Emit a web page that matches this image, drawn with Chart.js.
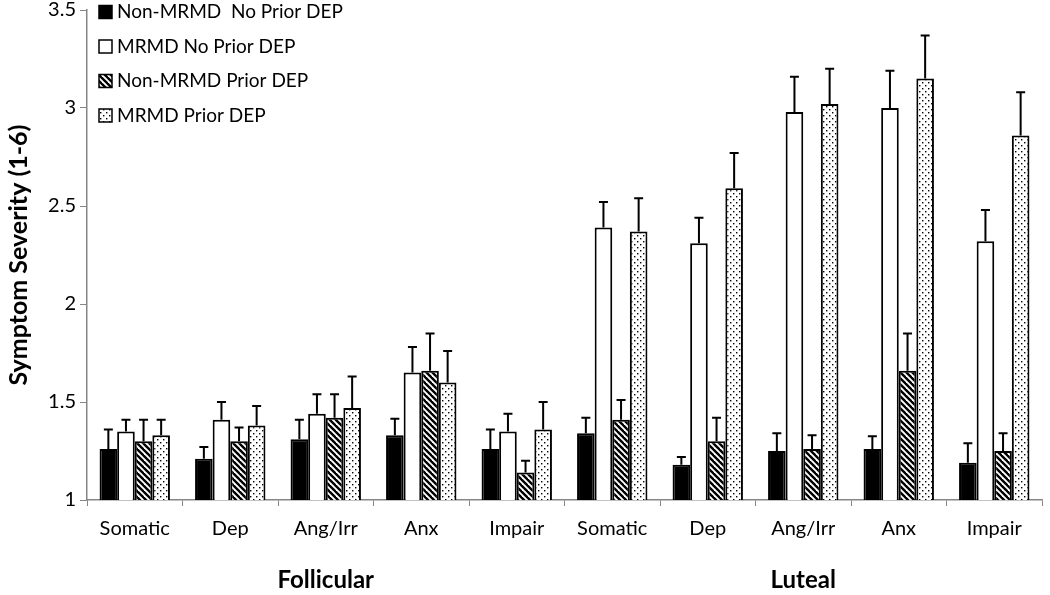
<!DOCTYPE html>
<html>
<head>
<meta charset="utf-8">
<script src="https://cdn.jsdelivr.net/npm/chart.js@4.4.0/dist/chart.umd.min.js"></script>
<style>
  html, body { margin: 0; padding: 0; background: #fff; }
  #wrap { width: 1050px; height: 595px; }
</style>
</head>
<body>
<div id="wrap"><canvas id="severityChart"></canvas></div>
<script>
const categories = ['Somatic', 'Dep', 'Ang/Irr', 'Anx', 'Impair', 'Somatic', 'Dep', 'Ang/Irr', 'Anx', 'Impair'];
const phaseLabels = ['Follicular', 'Luteal'];
const seriesNames = ['Non-MRMD  No Prior DEP', 'MRMD No Prior DEP', 'Non-MRMD Prior DEP', 'MRMD Prior DEP'];
const yTicks = [1, 1.5, 2, 2.5, 3, 3.5];

// means and upper error (SE) per group, follicular then luteal
const nonNoPrior    = [1.26, 1.21, 1.31, 1.33, 1.26, 1.34, 1.18, 1.25, 1.26, 1.19];
const nonNoPriorErr = [0.10, 0.06, 0.10, 0.085, 0.10, 0.08, 0.04, 0.09, 0.065, 0.10];
const mrmdNoPrior    = [1.35, 1.41, 1.44, 1.65, 1.35, 2.39, 2.31, 2.98, 3.00, 2.32];
const mrmdNoPriorErr = [0.06, 0.09, 0.10, 0.13, 0.09, 0.13, 0.13, 0.18, 0.19, 0.16];
const nonPrior    = [1.30, 1.30, 1.42, 1.66, 1.14, 1.41, 1.30, 1.26, 1.66, 1.25];
const nonPriorErr = [0.11, 0.07, 0.12, 0.19, 0.06, 0.10, 0.12, 0.07, 0.19, 0.09];
const mrmdPrior    = [1.33, 1.38, 1.47, 1.60, 1.36, 2.37, 2.59, 3.02, 3.15, 2.86];
const mrmdPriorErr = [0.08, 0.10, 0.16, 0.16, 0.14, 0.17, 0.18, 0.18, 0.22, 0.22];

const fontFamily = 'Lato, "Open Sans", sans-serif';

function makeHatch() {
    const c = document.createElement('canvas');
    c.width = 6; c.height = 6;
    const g = c.getContext('2d');
    g.fillStyle = '#fff';
    g.fillRect(0, 0, 6, 6);
    g.strokeStyle = '#000';
    g.lineWidth = 2.4;
    for (let k = -6; k <= 6; k += 6) {
        g.beginPath();
        g.moveTo(k - 1, -1);
        g.lineTo(k + 7, 7);
        g.stroke();
    }
    return g.createPattern(c, 'repeat');
}

function makeDots() {
    const c = document.createElement('canvas');
    c.width = 6; c.height = 6;
    const g = c.getContext('2d');
    g.fillStyle = '#fff';
    g.fillRect(0, 0, 6, 6);
    g.fillStyle = '#000';
    g.fillRect(1, 1, 1.4, 1.4);
    g.fillRect(4, 4, 1.4, 1.4);
    return g.createPattern(c, 'repeat');
}

const fills = ['#000', '#fff', makeHatch(), makeDots()];
const seriesValues = [nonNoPrior, mrmdNoPrior, nonPrior, mrmdPrior];
const seriesErrors = [nonNoPriorErr, mrmdNoPriorErr, nonPriorErr, mrmdPriorErr];

const errorBars = {
    id: 'errorBars',
    afterDatasetsDraw(chart) {
        const ctx = chart.ctx;
        const y = chart.scales.y;
        ctx.save();
        ctx.strokeStyle = '#000';
        ctx.lineWidth = 2;
        chart.data.datasets.forEach((ds, i) => {
            const meta = chart.getDatasetMeta(i);
            meta.data.forEach((bar, j) => {
                const top = y.getPixelForValue(ds.data[j] + seriesErrors[i][j]);
                ctx.beginPath();
                ctx.moveTo(bar.x, bar.y);
                ctx.lineTo(bar.x, top);
                ctx.moveTo(bar.x - 4.5, top);
                ctx.lineTo(bar.x + 4.5, top);
                ctx.stroke();
            });
        });
        ctx.restore();
    }
};

const innerLegend = {
    id: 'innerLegend',
    afterDraw(chart) {
        const ctx = chart.ctx;
        const area = chart.chartArea;
        ctx.save();
        ctx.font = '19px ' + fontFamily;
        ctx.textBaseline = 'middle';
        chart.data.datasets.forEach((ds, i) => {
            const cy = area.top + 2 + i * 34.5;
            const bx = area.left + 12;
            ctx.fillStyle = ds.backgroundColor;
            ctx.fillRect(bx, cy - 6.5, 13, 13);
            ctx.strokeStyle = '#000';
            ctx.lineWidth = 1.5;
            ctx.strokeRect(bx, cy - 6.5, 13, 13);
            ctx.fillStyle = '#000';
            ctx.fillText(ds.label, bx + 18, cy);
        });
        ctx.restore();
    }
};

const phaseTitles = {
    id: 'phaseTitles',
    afterDraw(chart) {
        const ctx = chart.ctx;
        const x = chart.scales.x;
        ctx.save();
        ctx.font = 'bold 24px ' + fontFamily;
        ctx.fillStyle = '#000';
        ctx.textAlign = 'center';
        ctx.textBaseline = 'middle';
        phaseLabels.forEach((label, k) => {
            const first = x.getPixelForValue(k * 5);
            const last = x.getPixelForValue(k * 5 + 4);
            ctx.fillText(label, (first + last) / 2, chart.chartArea.bottom + 80);
        });
        ctx.restore();
    }
};

new Chart(document.getElementById('severityChart').getContext('2d'), {
    type: 'bar',
    data: {
        labels: categories,
        datasets: seriesNames.map((name, i) => ({
            label: name,
            data: seriesValues[i],
            backgroundColor: fills[i],
            borderColor: '#000',
            borderWidth: 2,
            barPercentage: 1,
            categoryPercentage: 0.737
        }))
    },
    options: {
        responsive: true,
        maintainAspectRatio: false,
        animation: false,
        layout: { padding: { top: 10, right: 8, left: 4, bottom: 0 } },
        plugins: { legend: { display: false }, tooltip: { enabled: false } },
        scales: {
            x: {
                grid: { offset: true, drawOnChartArea: false, drawTicks: true, tickLength: 6, color: '#868686', lineWidth: 1 },
                border: { color: '#868686', width: 1.5 },
                ticks: { color: '#000', font: { family: fontFamily, size: 20 }, padding: 11, maxRotation: 0 },
                afterFit(scale) { scale.height = 95; }
            },
            y: {
                min: 1,
                max: 3.5,
                afterBuildTicks(scale) { scale.ticks = yTicks.map(v => ({ value: v })); },
                grid: { drawOnChartArea: false, drawTicks: true, tickLength: 7, color: '#868686' },
                border: { color: '#868686', width: 1.5 },
                ticks: { color: '#000', font: { family: fontFamily, size: 20 }, padding: 4, callback: v => String(v) },
                title: {
                    display: true,
                    text: 'Symptom Severity (1-6)',
                    color: '#000',
                    font: { family: fontFamily, size: 25, weight: 'bold' },
                    padding: { top: 0, bottom: 2 }
                },
                afterFit(scale) {
                    scale.width = 83;
                    scale.paddingTop = 0;
                    scale.paddingBottom = 0;
                }
            }
        }
    },
    plugins: [errorBars, innerLegend, phaseTitles]
});
</script>
</body>
</html>
